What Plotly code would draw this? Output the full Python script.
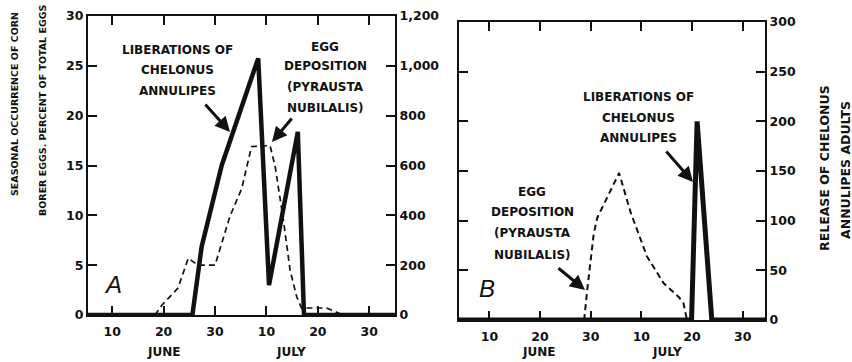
import plotly.graph_objects as go

W, H = 852, 362

# Day index: June 1 = 1 ... June 30 = 30, July 1 = 31 ... July 30 = 60
a_lib_day = [5.3, 25.6, 27.4, 31.3, 38.4, 40.5, 46.1, 47.3, 65.0]
a_lib_val = [0, 0, 274, 600, 1030, 120, 735, 0, 0]          # adults released
a_egg_day = [18.3, 19.7, 22.8, 24.8, 26.7, 30.0, 32.9, 35.2, 37.1, 40.7,
             41.7, 43.3, 44.6, 45.9, 46.8, 51.7, 54.9]
a_egg_pct = [0, 1.0, 2.7, 5.7, 5.0, 5.0, 9.9, 12.7, 16.9, 17.0,
             14.9, 9.5, 4.5, 1.8, 0.7, 0.7, 0]                 # percent of total eggs

b_egg_day = [28.7, 29.3, 30.6, 31.3, 35.6, 37.9, 41.1, 44.4, 47.4, 48.3, 49.0]
b_egg_pct = [0, 3.0, 8.7, 10.3, 14.8, 10.8, 6.4, 3.7, 2.3, 1.7, 0]
b_lib_day = [4.0, 49.9, 51.0, 53.9, 64.4]
b_lib_val = [0, 0, 200, 0, 0]

x_tickvals = [10, 20, 30, 40, 50, 60]
x_ticktext = ["10", "20", "30", "10", "20", "30"]
a_left_ticks = [0, 5, 10, 15, 20, 25, 30]
a_right_vals = [0, 200, 400, 600, 800, 1000, 1200]
a_right_text = ["0", "200", "400", "600", "800", "1,000", "1,200"]
b_right_vals = [0, 50, 100, 150, 200, 250, 300]

FONT = "DejaVu Sans"
BLK = "#111111"

def px(x):
    return x / W

def py(y):
    return 1 - y / H

fig = go.Figure()

# Panel A
fig.add_trace(go.Scatter(x=a_lib_day, y=a_lib_val, xaxis="x", yaxis="y2", mode="lines",
                         line=dict(color=BLK, width=4.5), showlegend=False))
fig.add_trace(go.Scatter(x=a_egg_day, y=a_egg_pct, xaxis="x", yaxis="y", mode="lines",
                         line=dict(color=BLK, width=1.7, dash="6px,4px"), showlegend=False))
# Panel B
fig.add_trace(go.Scatter(x=b_egg_day, y=b_egg_pct, xaxis="x2", yaxis="y3", mode="lines",
                         line=dict(color=BLK, width=2, dash="6px,4px"), showlegend=False))
fig.add_trace(go.Scatter(x=b_lib_day, y=b_lib_val, xaxis="x2", yaxis="y4", mode="lines",
                         line=dict(color=BLK, width=5), showlegend=False))

tickfont = dict(family=FONT, size=12.5, color=BLK, weight="bold")
common_x = dict(tickmode="array", tickvals=x_tickvals, ticktext=x_ticktext, ticks="inside",
                ticklen=9, tickwidth=2, tickcolor=BLK, showline=True, linewidth=2, linecolor=BLK,
                mirror="ticks", showgrid=False, zeroline=False, tickfont=tickfont,
                ticklabelstandoff=4, automargin=False)
common_y = dict(ticks="inside", ticklen=9, tickwidth=2, tickcolor=BLK, showline=True,
                linewidth=2, linecolor=BLK, showgrid=False, zeroline=False, tickfont=tickfont,
                automargin=False)

ydomA = [py(315), py(16)]
ydomB = [py(320), py(22)]

fig.update_layout(
    template="none",
    width=W, height=H, margin=dict(l=0, r=0, t=0, b=0, autoexpand=False),
    paper_bgcolor="white", plot_bgcolor="rgba(0,0,0,0)",
    font=dict(family=FONT, color=BLK),
    xaxis=dict(domain=[px(88), px(395)], range=[5.3, 65.0], anchor="y", **common_x),
    yaxis=dict(domain=ydomA, range=[0, 30], tickmode="array", tickvals=a_left_ticks,
               anchor="x", **common_y),
    yaxis2=dict(domain=ydomA, range=[0, 1200], tickmode="array", tickvals=a_right_vals,
                ticktext=a_right_text, overlaying="y", side="right", anchor="x", **common_y),
    xaxis2=dict(domain=[px(459), px(765)], range=[4.0, 64.4], anchor="y3", **common_x),
    yaxis3=dict(domain=ydomB, range=[0, 30], tickmode="array", tickvals=a_left_ticks,
                showticklabels=False, anchor="x2", **common_y),
    yaxis4=dict(domain=ydomB, range=[0, 300], tickmode="array", tickvals=b_right_vals,
                overlaying="y3", side="right", anchor="x2", **common_y),
)

lab = dict(family=FONT, size=12, color=BLK, weight="bold")
ann = []

def text(x, y, t, size=12, xanchor="center", **kw):
    f = dict(lab)
    f["size"] = size
    f.update(kw.pop("font", {}))
    ann.append(dict(x=px(x), y=py(y), xref="paper", yref="paper", text=t, showarrow=False,
                    font=f, xanchor=xanchor, yanchor="middle", **kw))

def lines(x, ys, ts, size=12):
    for y, t in zip(ys, ts):
        text(x, y, t, size=size)

def arrow(hx, hy, tx, ty):
    ann.append(dict(x=px(hx), y=py(hy), xref="paper", yref="paper", text="", showarrow=True,
                    ax=tx - hx, ay=ty - hy, arrowhead=2, arrowsize=1.0, arrowwidth=3,
                    arrowcolor=BLK))

LIB = ["LIBERATIONS OF", "CHELONUS", "ANNULIPES"]
EGG = ["EGG", "DEPOSITION", "(PYRAUSTA", "NUBILALIS)"]

# Month labels
for x, t in [(163, "JUNE"), (291, "JULY"), (538, "JUNE"), (667, "JULY")]:
    text(x, 352, t, size=12)

# Panel A annotations
lines(177, [50, 70, 91], LIB)
arrow(230, 132, 204, 103)
lines(325, [47, 66, 87, 108], EGG)
arrow(272, 142, 293, 117)
text(113, 284, "A", size=24, font=dict(family="Liberation Sans", style="italic", weight="normal"))

# Panel B annotations
lines(638, [97, 118, 138], LIB)
arrow(693, 182, 665, 150)
lines(532, [192, 212, 233, 255], EGG)
arrow(585, 290, 557, 267)
text(487, 288, "B", size=24, font=dict(family="Liberation Sans", style="italic", weight="normal"))

# Axis titles
text(15, 104, "SEASONAL OCCURRENCE OF CORN", size=9.5, textangle=-90)
text(42, 110, "BORER EGGS. PERCENT OF TOTAL EGGS", size=9.5, textangle=-90)
text(825, 168, "RELEASE OF CHELONUS", size=12.5, textangle=-90)
text(845, 170, "ANNULIPES ADULTS", size=12.5, textangle=-90)

fig.update_layout(annotations=ann)
fig.write_html("out.html")
